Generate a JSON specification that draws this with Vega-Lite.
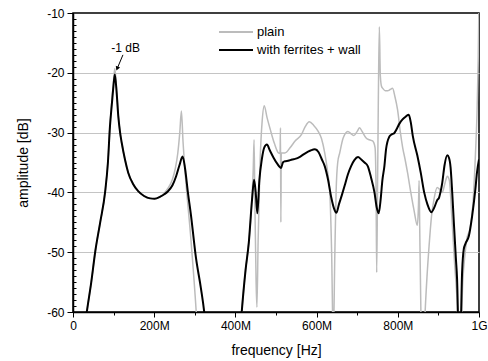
{
  "$schema": "https://vega.github.io/schema/vega-lite/v6.json",
  "autosize": {"type": "none"},
  "padding": {"left": 73, "top": 13, "right": 9, "bottom": 49},
  "width": 406,
  "height": 299,
  "config": {
    "font": "Liberation Sans",
    "view": {"stroke": "#000000", "strokeWidth": 1.5},
    "axis": {"labelFont": "Liberation Sans", "titleFont": "Liberation Sans", "labelColor": "#000", "titleColor": "#000", "titleFontWeight": "normal", "domainColor": "#000", "domainWidth": 1.5, "tickColor": "#000", "labelFontSize": 12, "titleFontSize": 14, "labelOverlap": false},
    "legend": {"padding": 0}
  },
  "datasets": {
    "curves": [
      {"s":"plain","f":30,"db":-62},{"s":"plain","f":34,"db":-60},{"s":"plain","f":45,"db":-55},{"s":"plain","f":55,"db":-49.8},{"s":"plain","f":67,"db":-45},{"s":"plain","f":79,"db":-40},{"s":"plain","f":86,"db":-35},{"s":"plain","f":91,"db":-29},{"s":"plain","f":96,"db":-24.5},{"s":"plain","f":99.5,"db":-21.6},{"s":"plain","f":103,"db":-19.3},{"s":"plain","f":107.6,"db":-23},{"s":"plain","f":111.6,"db":-27.2},{"s":"plain","f":116,"db":-30},{"s":"plain","f":120,"db":-31.7},{"s":"plain","f":128,"db":-34.5},{"s":"plain","f":136,"db":-36.7},{"s":"plain","f":148,"db":-38.6},{"s":"plain","f":160.5,"db":-39.8},{"s":"plain","f":175,"db":-40.6},{"s":"plain","f":190,"db":-41},{"s":"plain","f":201,"db":-41.05},{"s":"plain","f":215,"db":-40.7},{"s":"plain","f":225,"db":-40.1},{"s":"plain","f":234,"db":-39.3},{"s":"plain","f":245,"db":-37.8},{"s":"plain","f":252,"db":-36},{"s":"plain","f":258,"db":-33.5},{"s":"plain","f":263,"db":-30},{"s":"plain","f":267,"db":-26.4},{"s":"plain","f":271,"db":-31.5},{"s":"plain","f":276,"db":-36.5},{"s":"plain","f":290,"db":-47.5},{"s":"plain","f":304,"db":-60.5},{"s":"plain","f":312,"db":-70},{"s":"plain","f":405,"db":-70},{"s":"plain","f":415,"db":-60.5},{"s":"plain","f":425,"db":-53},{"s":"plain","f":433,"db":-48.4},{"s":"plain","f":440,"db":-42},{"s":"plain","f":444,"db":-36},{"s":"plain","f":446,"db":-31.2},{"s":"plain","f":448,"db":-42},{"s":"plain","f":451,"db":-55},{"s":"plain","f":453,"db":-59.2},{"s":"plain","f":456,"db":-48},{"s":"plain","f":461,"db":-34.5},{"s":"plain","f":466,"db":-28},{"s":"plain","f":471,"db":-25.5},{"s":"plain","f":478,"db":-27.5},{"s":"plain","f":486,"db":-29.5},{"s":"plain","f":496,"db":-31.8},{"s":"plain","f":506,"db":-33.4},{"s":"plain","f":510,"db":-33.5},{"s":"plain","f":511,"db":-29.2},{"s":"plain","f":512,"db":-45},{"s":"plain","f":513,"db":-33.4},{"s":"plain","f":522,"db":-33.4},{"s":"plain","f":535,"db":-32.5},{"s":"plain","f":547,"db":-31.4},{"s":"plain","f":563,"db":-30.3},{"s":"plain","f":572,"db":-29},{"s":"plain","f":582,"db":-28.2},{"s":"plain","f":593,"db":-28.8},{"s":"plain","f":604,"db":-29.8},{"s":"plain","f":612,"db":-31},{"s":"plain","f":620,"db":-33.4},{"s":"plain","f":627,"db":-36.5},{"s":"plain","f":632.5,"db":-40},{"s":"plain","f":637,"db":-50},{"s":"plain","f":641,"db":-65},{"s":"plain","f":645,"db":-50},{"s":"plain","f":648,"db":-40},{"s":"plain","f":652,"db":-35},{"s":"plain","f":657,"db":-33.4},{"s":"plain","f":665,"db":-31},{"s":"plain","f":677,"db":-29.8},{"s":"plain","f":685,"db":-30.2},{"s":"plain","f":692,"db":-30.5},{"s":"plain","f":700,"db":-29.8},{"s":"plain","f":706,"db":-29.2},{"s":"plain","f":712,"db":-29.8},{"s":"plain","f":722,"db":-30.9},{"s":"plain","f":730,"db":-31.2},{"s":"plain","f":738,"db":-31.4},{"s":"plain","f":744,"db":-32.5},{"s":"plain","f":746.5,"db":-40},{"s":"plain","f":748,"db":-53.4},{"s":"plain","f":750,"db":-40},{"s":"plain","f":752,"db":-25},{"s":"plain","f":754.5,"db":-12.3},{"s":"plain","f":757,"db":-20.5},{"s":"plain","f":760,"db":-22.3},{"s":"plain","f":763,"db":-22.6},{"s":"plain","f":769,"db":-23},{"s":"plain","f":775,"db":-23},{"s":"plain","f":781,"db":-22.8},{"s":"plain","f":787,"db":-22.6},{"s":"plain","f":793,"db":-24},{"s":"plain","f":799.5,"db":-26.2},{"s":"plain","f":806,"db":-29.8},{"s":"plain","f":812,"db":-32.5},{"s":"plain","f":818,"db":-34.5},{"s":"plain","f":824,"db":-36.7},{"s":"plain","f":832,"db":-40},{"s":"plain","f":840,"db":-43},{"s":"plain","f":848,"db":-45.5},{"s":"plain","f":851,"db":-42},{"s":"plain","f":852.5,"db":-38},{"s":"plain","f":854,"db":-46},{"s":"plain","f":857,"db":-60.5},{"s":"plain","f":862,"db":-70},{"s":"plain","f":867,"db":-60.5},{"s":"plain","f":872,"db":-54},{"s":"plain","f":877,"db":-49},{"s":"plain","f":883,"db":-44},{"s":"plain","f":889,"db":-41.2},{"s":"plain","f":897,"db":-39.2},{"s":"plain","f":903,"db":-39.5},{"s":"plain","f":909.5,"db":-40},{"s":"plain","f":916,"db":-38.5},{"s":"plain","f":922,"db":-37.3},{"s":"plain","f":927,"db":-38},{"s":"plain","f":933,"db":-44},{"s":"plain","f":940,"db":-52},{"s":"plain","f":946,"db":-58},{"s":"plain","f":950,"db":-64},{"s":"plain","f":955,"db":-64},{"s":"plain","f":960,"db":-55},{"s":"plain","f":966,"db":-50},{"s":"plain","f":970,"db":-47.8},{"s":"plain","f":978,"db":-46},{"s":"plain","f":985,"db":-42},{"s":"plain","f":991,"db":-34},{"s":"plain","f":995,"db":-27},{"s":"plain","f":998,"db":-18},{"s":"plain","f":1000,"db":-8},
      {"s":"with ferrites + wall","f":30,"db":-62},{"s":"with ferrites + wall","f":34,"db":-60},{"s":"with ferrites + wall","f":45,"db":-55},{"s":"with ferrites + wall","f":55,"db":-49.8},{"s":"with ferrites + wall","f":67,"db":-45},{"s":"with ferrites + wall","f":79,"db":-40},{"s":"with ferrites + wall","f":86,"db":-35},{"s":"with ferrites + wall","f":91,"db":-29},{"s":"with ferrites + wall","f":96,"db":-25},{"s":"with ferrites + wall","f":99.5,"db":-22.3},{"s":"with ferrites + wall","f":103,"db":-20.3},{"s":"with ferrites + wall","f":107.6,"db":-23.4},{"s":"with ferrites + wall","f":111.6,"db":-27.3},{"s":"with ferrites + wall","f":116,"db":-30},{"s":"with ferrites + wall","f":120,"db":-31.7},{"s":"with ferrites + wall","f":128,"db":-34.5},{"s":"with ferrites + wall","f":136,"db":-36.7},{"s":"with ferrites + wall","f":148,"db":-38.6},{"s":"with ferrites + wall","f":160.5,"db":-39.8},{"s":"with ferrites + wall","f":175,"db":-40.6},{"s":"with ferrites + wall","f":190,"db":-41},{"s":"with ferrites + wall","f":201,"db":-41.05},{"s":"with ferrites + wall","f":215,"db":-40.7},{"s":"with ferrites + wall","f":225,"db":-40.3},{"s":"with ferrites + wall","f":234,"db":-39.8},{"s":"with ferrites + wall","f":245,"db":-38.8},{"s":"with ferrites + wall","f":254,"db":-37.3},{"s":"with ferrites + wall","f":262,"db":-35.5},{"s":"with ferrites + wall","f":270,"db":-34},{"s":"with ferrites + wall","f":276,"db":-36},{"s":"with ferrites + wall","f":283,"db":-40},{"s":"with ferrites + wall","f":290,"db":-43.5},{"s":"with ferrites + wall","f":303,"db":-51},{"s":"with ferrites + wall","f":315,"db":-56},{"s":"with ferrites + wall","f":324,"db":-60.5},{"s":"with ferrites + wall","f":335,"db":-70},{"s":"with ferrites + wall","f":405,"db":-70},{"s":"with ferrites + wall","f":415,"db":-60.5},{"s":"with ferrites + wall","f":425,"db":-53},{"s":"with ferrites + wall","f":433,"db":-48.4},{"s":"with ferrites + wall","f":441,"db":-41.2},{"s":"with ferrites + wall","f":446,"db":-37.9},{"s":"with ferrites + wall","f":450,"db":-40},{"s":"with ferrites + wall","f":454,"db":-43.5},{"s":"with ferrites + wall","f":459,"db":-38},{"s":"with ferrites + wall","f":465,"db":-34.5},{"s":"with ferrites + wall","f":471,"db":-32.5},{"s":"with ferrites + wall","f":477.6,"db":-32},{"s":"with ferrites + wall","f":485,"db":-33},{"s":"with ferrites + wall","f":494,"db":-34.2},{"s":"with ferrites + wall","f":503,"db":-35.2},{"s":"with ferrites + wall","f":512.7,"db":-35.9},{"s":"with ferrites + wall","f":517,"db":-35},{"s":"with ferrites + wall","f":522,"db":-34.8},{"s":"with ferrites + wall","f":530,"db":-34.7},{"s":"with ferrites + wall","f":540,"db":-34.5},{"s":"with ferrites + wall","f":547,"db":-34.4},{"s":"with ferrites + wall","f":560,"db":-34},{"s":"with ferrites + wall","f":571,"db":-33.5},{"s":"with ferrites + wall","f":585,"db":-33},{"s":"with ferrites + wall","f":596,"db":-32.8},{"s":"with ferrites + wall","f":605,"db":-33.3},{"s":"with ferrites + wall","f":613,"db":-34.5},{"s":"with ferrites + wall","f":620,"db":-35.6},{"s":"with ferrites + wall","f":628,"db":-37.8},{"s":"with ferrites + wall","f":636,"db":-40.8},{"s":"with ferrites + wall","f":643,"db":-42.7},{"s":"with ferrites + wall","f":649,"db":-43.4},{"s":"with ferrites + wall","f":655,"db":-42},{"s":"with ferrites + wall","f":662,"db":-40.5},{"s":"with ferrites + wall","f":669,"db":-38.9},{"s":"with ferrites + wall","f":677,"db":-37},{"s":"with ferrites + wall","f":685,"db":-35.6},{"s":"with ferrites + wall","f":693,"db":-34.6},{"s":"with ferrites + wall","f":702,"db":-34.1},{"s":"with ferrites + wall","f":710,"db":-34.5},{"s":"with ferrites + wall","f":718,"db":-35},{"s":"with ferrites + wall","f":726,"db":-35.6},{"s":"with ferrites + wall","f":734,"db":-37.5},{"s":"with ferrites + wall","f":742.5,"db":-40},{"s":"with ferrites + wall","f":748,"db":-42.5},{"s":"with ferrites + wall","f":753,"db":-43.5},{"s":"with ferrites + wall","f":758,"db":-41},{"s":"with ferrites + wall","f":762,"db":-38},{"s":"with ferrites + wall","f":767,"db":-35.6},{"s":"with ferrites + wall","f":771,"db":-32.8},{"s":"with ferrites + wall","f":779,"db":-30.7},{"s":"with ferrites + wall","f":785,"db":-30.3},{"s":"with ferrites + wall","f":791,"db":-30.1},{"s":"with ferrites + wall","f":798,"db":-29.3},{"s":"with ferrites + wall","f":804,"db":-28.5},{"s":"with ferrites + wall","f":811.7,"db":-27.8},{"s":"with ferrites + wall","f":820,"db":-27.3},{"s":"with ferrites + wall","f":827,"db":-27},{"s":"with ferrites + wall","f":832,"db":-28.3},{"s":"with ferrites + wall","f":837,"db":-30.6},{"s":"with ferrites + wall","f":848,"db":-33.8},{"s":"with ferrites + wall","f":856.5,"db":-36.7},{"s":"with ferrites + wall","f":865,"db":-40},{"s":"with ferrites + wall","f":873,"db":-42},{"s":"with ferrites + wall","f":882.6,"db":-43.3},{"s":"with ferrites + wall","f":890,"db":-42.5},{"s":"with ferrites + wall","f":897,"db":-41.3},{"s":"with ferrites + wall","f":901.5,"db":-40.9},{"s":"with ferrites + wall","f":905,"db":-40},{"s":"with ferrites + wall","f":909.5,"db":-38.4},{"s":"with ferrites + wall","f":915,"db":-35.5},{"s":"with ferrites + wall","f":922,"db":-33.8},{"s":"with ferrites + wall","f":926,"db":-34.2},{"s":"with ferrites + wall","f":930,"db":-35.8},{"s":"with ferrites + wall","f":934,"db":-40},{"s":"with ferrites + wall","f":938,"db":-45},{"s":"with ferrites + wall","f":943,"db":-51},{"s":"with ferrites + wall","f":946,"db":-54.5},{"s":"with ferrites + wall","f":950,"db":-64},{"s":"with ferrites + wall","f":954,"db":-64},{"s":"with ferrites + wall","f":958.4,"db":-53.3},{"s":"with ferrites + wall","f":962.5,"db":-49.5},{"s":"with ferrites + wall","f":966.5,"db":-48.6},{"s":"with ferrites + wall","f":975,"db":-47.3},{"s":"with ferrites + wall","f":983,"db":-44},{"s":"with ferrites + wall","f":991,"db":-39.5},{"s":"with ferrites + wall","f":995,"db":-36.7},{"s":"with ferrites + wall","f":1000,"db":-34.5}
    ],
    "note": [{"f": 129.6, "db": -15.8, "f2": 123, "db2": -17, "f3": 108.8, "db3": -19.3, "label": "-1 dB"}]
  },
  "layer": [
    {
      "data": {"name": "curves"},
      "transform": [{"filter": "datum.s === 'plain'"}],
      "mark": {"type": "line", "clip": true, "strokeWidth": 1.5, "interpolate": "monotone"},
      "encoding": {
        "x": {"field": "f", "type": "quantitative", "scale": {"domain": [0, 1000], "nice": false, "zero": false},
          "axis": {"title": "frequency [Hz]", "values": [0,100,200,300,400,500,600,700,800,900,1000], "tickCount": 200, "grid": false,
            "labelExpr": "datum.value === 0 ? '0' : (datum.value === 1000 ? '1G' : (datum.value % 200 === 0 ? datum.value + 'M' : ''))",
            "tickSize": {"condition": {"test": "datum.value % 200 === 0", "value": 5}, "value": 3},
            "labelPadding": 3, "titlePadding": 12, "labelFlush": false}},
        "y": {"field": "db", "type": "quantitative", "scale": {"domain": [-60, -10], "nice": false, "zero": false},
          "axis": {"title": "amplitude [dB]",
            "values": [-60,-59,-58,-57,-56,-55,-54,-53,-52,-51,-50,-49,-48,-47,-46,-45,-44,-43,-42,-41,-40,-39,-38,-37,-36,-35,-34,-33,-32,-31,-30,-29,-28,-27,-26,-25,-24,-23,-22,-21,-20,-19,-18,-17,-16,-15,-14,-13,-12,-11,-10],
            "tickCount": 200,
            "labelExpr": "datum.value % 10 === 0 ? toString(datum.value) : ''",
            "tickSize": {"condition": {"test": "datum.value % 10 === 0", "value": 6}, "value": -3},
            "grid": true, "gridColor": "#c4c4c4", "gridWidth": 1,
            "gridOpacity": {"condition": {"test": "datum.value % 10 === 0 && datum.value > -60 && datum.value < -10", "value": 1}, "value": 0},
            "labelPadding": 3, "titlePadding": 16, "labelFlush": false, "labelOverlap": false}},
        "color": {"field": "s", "type": "nominal",
          "scale": {"domain": ["plain", "with ferrites + wall"], "range": ["#bcbcbc", "#000000"]},
          "legend": {"title": null, "orient": "none", "legendX": 145, "legendY": 11, "symbolType": "stroke", "symbolSize": 1156, "symbolStrokeWidth": 2, "labelFontSize": 13, "labelFont": "Liberation Sans", "labelColor": "#000", "labelOffset": 3, "clipHeight": 16, "rowPadding": 2}}
      }
    },
    {
      "data": {"name": "curves"},
      "transform": [{"filter": "datum.s !== 'plain'"}],
      "mark": {"type": "line", "clip": true, "strokeWidth": 2, "interpolate": "monotone"},
      "encoding": {
        "x": {"field": "f", "type": "quantitative"},
        "y": {"field": "db", "type": "quantitative"},
        "color": {"field": "s", "type": "nominal"}
      }
    },
    {
      "data": {"name": "note"},
      "mark": {"type": "text", "fontSize": 12, "font": "Liberation Sans", "color": "#000", "baseline": "middle", "align": "center"},
      "encoding": {"x": {"field": "f", "type": "quantitative"}, "y": {"field": "db", "type": "quantitative"}, "text": {"field": "label"}}
    },
    {
      "data": {"name": "note"},
      "mark": {"type": "rule", "color": "#000", "strokeWidth": 1},
      "encoding": {"x": {"field": "f2", "type": "quantitative"}, "y": {"field": "db2", "type": "quantitative"}, "x2": {"field": "f3"}, "y2": {"field": "db3"}}
    },
    {
      "data": {"name": "note"},
      "mark": {"type": "point", "shape": "triangle-down", "filled": true, "color": "#000", "size": 22, "angle": 22, "opacity": 1},
      "encoding": {"x": {"field": "f3", "type": "quantitative"}, "y": {"field": "db3", "type": "quantitative"}}
    }
  ]
}
